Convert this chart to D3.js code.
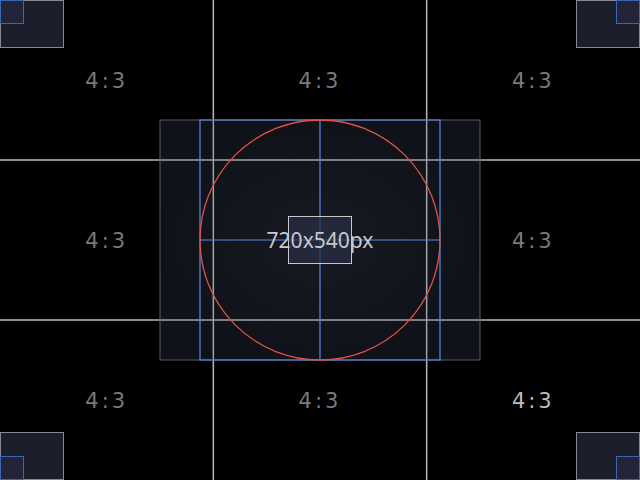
<!DOCTYPE html>
<html>
<head>
<meta charset="utf-8">
<script src="https://cdn.jsdelivr.net/npm/d3@7"></script>
<style>
  html, body { margin: 0; padding: 0; background: #000; }
  svg { display: block; }
</style>
</head>
<body>
<div id="chart"></div>
<script>
// grid splits and cell labels (fractions of the frame)
const gridLines = [1 / 3, 2 / 3];
const cellCols = [1 / 6, 1 / 2, 5 / 6];
const cellRows = [1 / 6, 1 / 2, 5 / 6];
const cellLabels = [
    ['4:3', '4:3', '4:3'],
    ['4:3', '', '4:3'],
    ['4:3', '4:3', '4:3']
];
const centerLabel = '720x540px';
// corners: [x side, y side]
const corners = [[0, 0], [1, 0], [0, 1], [1, 1]];

const width = 640;
const height = 480;

const x = d3.scaleLinear().domain([0, 1]).range([0, width]);
const y = d3.scaleLinear().domain([0, 1]).range([0, height]);

const svg = d3.select('#chart')
    .append('svg')
    .attr('width', width)
    .attr('height', height);

svg.append('rect')
    .attr('width', width)
    .attr('height', height)
    .attr('fill', '#000');

const defs = svg.append('defs');
const glow = defs.append('radialGradient')
    .attr('id', 'glow');
glow.append('stop').attr('offset', '0%').attr('stop-color', '#6c76a0');
glow.append('stop').attr('offset', '100%').attr('stop-color', '#4a5274');

// thirds grid
svg.selectAll('.vline')
    .data(gridLines)
    .enter()
    .append('line')
    .attr('x1', d => x(d))
    .attr('x2', d => x(d))
    .attr('y1', 0)
    .attr('y2', height)
    .attr('stroke', '#b8b8b8')
    .attr('stroke-width', 1.5);

svg.selectAll('.hline')
    .data(gridLines)
    .enter()
    .append('line')
    .attr('x1', 0)
    .attr('x2', width)
    .attr('y1', d => y(d))
    .attr('y2', d => y(d))
    .attr('stroke', '#b8b8b8')
    .attr('stroke-width', 1.5);

// half-size frame
svg.append('rect')
    .attr('x', x(0.25))
    .attr('y', y(0.25))
    .attr('width', x(0.5))
    .attr('height', y(0.5))
    .attr('fill', 'url(#glow)')
    .attr('fill-opacity', 0.22)
    .attr('stroke', '#5a5a5e')
    .attr('stroke-width', 1);

// square around the circle
const r = y(0.25);
const cx = x(0.5);
const cy = y(0.5);
const blue = '#5a8ae0';

svg.append('rect')
    .attr('x', cx - r)
    .attr('y', cy - r)
    .attr('width', 2 * r)
    .attr('height', 2 * r)
    .attr('fill', 'none')
    .attr('stroke', blue)
    .attr('stroke-width', 1.2);

svg.append('line')
    .attr('x1', cx).attr('x2', cx)
    .attr('y1', cy - r).attr('y2', cy + r)
    .attr('stroke', blue)
    .attr('stroke-width', 1.2);

svg.append('line')
    .attr('x1', cx - r).attr('x2', cx + r)
    .attr('y1', cy).attr('y2', cy)
    .attr('stroke', blue)
    .attr('stroke-width', 1.2);

svg.append('circle')
    .attr('cx', cx)
    .attr('cy', cy)
    .attr('r', r)
    .attr('fill', 'none')
    .attr('stroke', '#e0504c')
    .attr('stroke-width', 1.3);

// centre box
svg.append('rect')
    .attr('x', x(0.45) + 0.5)
    .attr('y', y(0.45) + 0.5)
    .attr('width', x(0.1) - 1)
    .attr('height', y(0.1) - 1)
    .attr('fill', '#2a2f46')
    .attr('fill-opacity', 0.7)
    .attr('stroke', '#c8c8c8')
    .attr('stroke-width', 1);

svg.append('text')
    .attr('x', cx)
    .attr('y', cy + 7.5)
    .attr('text-anchor', 'middle')
    .style('font-family', '"Noto Sans", sans-serif')
    .style('font-size', '21px')
    .attr('fill', '#c8c8cc')
    .text(centerLabel);

// corner boxes
const bw = x(0.1);
const bh = y(0.1);
const iw = 24;

corners.forEach(([sx, sy]) => {
    const bx = sx ? width - bw : 0;
    const by = sy ? height - bh : 0;
    svg.append('rect')
        .attr('x', bx + 0.5)
        .attr('y', by + 0.5)
        .attr('width', bw - 1)
        .attr('height', bh - 1)
        .attr('fill', '#1c1e2b')
        .attr('stroke', '#8a8a8e')
        .attr('stroke-width', 1);
    svg.append('rect')
        .attr('x', (sx ? width - iw : 0) + 0.5)
        .attr('y', (sy ? height - iw : 0) + 0.5)
        .attr('width', iw - 1)
        .attr('height', iw - 1)
        .attr('fill', '#23243a')
        .attr('stroke', '#3f66b0')
        .attr('stroke-width', 1);
});

// cell labels
cellRows.forEach((ry, i) => {
    cellCols.forEach((rx, j) => {
        const label = cellLabels[i][j];
        if (!label) return;
        svg.append('text')
            .attr('x', x(rx))
            .attr('y', y(ry) + 8)
            .attr('text-anchor', 'middle')
            .style('font-family', '"DejaVu Sans", sans-serif')
            .style('font-size', '21px')
            .style('letter-spacing', '3px')
            .attr('fill', (i === 2 && j === 2) ? '#bdbdbd' : '#7a7a7a')
            .text(label);
    });
});
</script>
</body>
</html>
